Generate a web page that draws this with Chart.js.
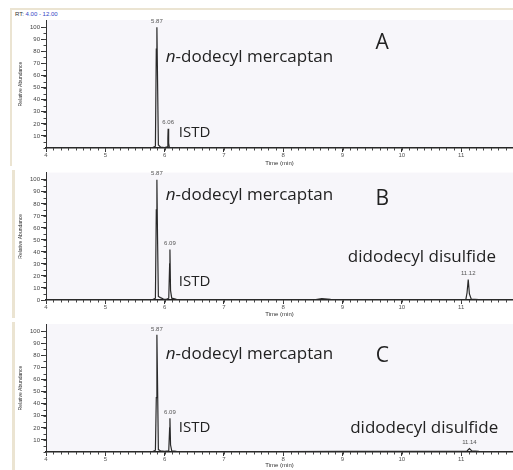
<!DOCTYPE html>
<html>
<head>
<meta charset="utf-8">
<script src="https://cdn.jsdelivr.net/npm/chart.js@4.4.1/dist/chart.umd.min.js"></script>
<style>
  html, body { margin: 0; padding: 0; background: #ffffff; width: 513px; height: 470px; overflow: hidden; }
  .panel { position: absolute; left: 0; width: 513px; }
  .deco { position: absolute; background: #ebe4d2; }
  #rt { position: absolute; left: 15px; top: 11px; font: 6px "Liberation Sans", Arial, sans-serif; color: #333; white-space: nowrap; }
  #rt span { color: #2f3fc4; }
</style>
</head>
<body>
<div class="deco" style="left:10px; top:8px; width:503px; height:2px;"></div>
<div class="deco" style="left:10px; top:8px; width:2px; height:158px;"></div>
<div class="deco" style="left:12px; top:170px; width:3px; height:148px;"></div>
<div class="deco" style="left:12px; top:322px; width:3px; height:148px;"></div>
<div id="rt">RT: <span>4.00 - 12.00</span></div>
<div class="panel" style="top:0px; height:168px;"><canvas id="ca"></canvas></div>
<div class="panel" style="top:168px; height:150px;"><canvas id="cb"></canvas></div>
<div class="panel" style="top:318px; height:152px;"><canvas id="cc"></canvas></div>
<script>
// ---------------- data ----------------
const xTicks = [4, 5, 6, 7, 8, 9, 10, 11];
const yTicksA = [10, 20, 30, 40, 50, 60, 70, 80, 90, 100];
const yTicksB = [0, 10, 20, 30, 40, 50, 60, 70, 80, 90, 100];
const yTicksC = [10, 20, 30, 40, 50, 60, 70, 80, 90, 100];

// Panel A chromatogram
const timeA  = [4.00, 5.00, 5.80, 5.845, 5.86, 5.87, 5.88, 5.895, 5.93, 6.00, 6.045, 6.055, 6.06, 6.068, 6.08, 6.20, 7.00, 8.00, 9.00, 10.00, 11.00, 11.90];
const abundA = [0.3, 0.3, 0.4, 1.5, 82, 100, 60, 2.5, 0.8, 0.4, 1.0, 8, 16, 4, 0.5, 0.3, 0.3, 0.3, 0.3, 0.3, 0.2, 0.2];
const peakTimeA = [5.87, 6.06];
const peakTopA  = [100, 16];

// Panel B chromatogram
const timeB  = [4.00, 5.00, 5.80, 5.845, 5.86, 5.87, 5.88, 5.895, 5.93, 5.98, 6.03, 6.07, 6.085, 6.09, 6.10, 6.12, 6.20, 7.00, 8.00, 8.55, 8.65, 8.80, 9.00, 10.00, 11.00, 11.08, 11.10, 11.12, 11.14, 11.17, 11.30, 11.90];
const abundB = [0.3, 0.3, 0.4, 1.5, 75, 100, 55, 3, 2, 0.8, 0.5, 1.5, 30, 42, 8, 1.5, 0.5, 0.3, 0.3, 0.4, 1.2, 0.6, 0.3, 0.3, 0.3, 0.5, 6, 17, 5, 0.8, 0.3, 0.3];
const peakTimeB = [5.87, 6.09, 11.12];
const peakTopB  = [100, 42, 17];

// Panel C chromatogram
const timeC  = [4.00, 5.00, 5.80, 5.845, 5.86, 5.87, 5.88, 5.895, 5.93, 6.00, 6.07, 6.085, 6.09, 6.10, 6.12, 6.20, 7.00, 8.00, 9.00, 10.00, 11.00, 11.10, 11.14, 11.18, 11.30, 11.90];
const abundC = [0.3, 0.3, 0.4, 1.5, 45, 97, 60, 2, 1, 0.6, 1, 20, 28, 6, 1, 0.5, 0.4, 0.4, 0.5, 0.6, 0.5, 0.8, 2.8, 0.9, 0.5, 0.4];
const peakTimeC = [5.87, 6.09, 11.14];
const peakTopC  = [97, 28, 2.8];

const panelLetters = ['A', 'B', 'C'];
const compoundMain = 'n-dodecyl mercaptan';
const compoundIstd = 'ISTD';
const compoundDisulfide = 'didodecyl disulfide';

// ---------------- drawing ----------------
const TICK_FONT = '"Liberation Sans", Arial, sans-serif';
const LABEL_FONT = '"Open Sans", "Noto Sans", sans-serif';

function makePanel(canvasId, times, abund, yTicks, peakTimes, peakTops, cfg) {
  const pts = times.map((t, i) => ({ x: t, y: abund[i] }));
  const deco = {
    id: 'deco_' + canvasId,
    beforeDraw(chart) {
      const a = chart.chartArea, ctx = chart.ctx;
      ctx.save();
      ctx.fillStyle = '#f7f6fa';
      ctx.fillRect(a.left, a.top, a.right - a.left, a.bottom - a.top);
      ctx.restore();
    },
    afterDraw(chart) {
      const ctx = chart.ctx, xs = chart.scales.x, ys = chart.scales.y, a = chart.chartArea;
      ctx.save();
      // minor ticks
      ctx.strokeStyle = '#444';
      ctx.lineWidth = 1;
      ctx.beginPath();
      for (let k = 0; k <= 64; k++) {
        const v = 4 + k * 0.125;
        const px = Math.round(xs.getPixelForValue(v)) + 0.5;
        if (px < a.left || px > a.right) continue;
        ctx.moveTo(px, a.bottom);
        ctx.lineTo(px, a.bottom + 2.5);
      }
      for (let k = 0; k <= 20; k++) {
        const v = k * 5;
        const py = Math.round(ys.getPixelForValue(v)) + 0.5;
        ctx.moveTo(a.left, py);
        ctx.lineTo(a.left - 2.5, py);
      }
      ctx.stroke();
      // peak labels
      ctx.fillStyle = '#555';
      ctx.font = '6px ' + TICK_FONT;
      ctx.textAlign = 'center';
      ctx.textBaseline = 'bottom';
      peakTimes.forEach((t, i) => {
        ctx.fillText(t.toFixed(2), xs.getPixelForValue(t), ys.getPixelForValue(peakTops[i]) - 3);
      });
      // compound labels
      ctx.fillStyle = '#222';
      ctx.textBaseline = 'middle';
      ctx.textAlign = 'left';
      const bigFont = '17px ' + LABEL_FONT;
      const italFont = 'italic 17px ' + LABEL_FONT;
      // n-dodecyl mercaptan (italic n)
      let mx = xs.getPixelForValue(cfg.main[0]), my = ys.getPixelForValue(cfg.main[1]);
      ctx.font = italFont;
      ctx.fillText(compoundMain.charAt(0), mx, my);
      const w0 = ctx.measureText(compoundMain.charAt(0)).width;
      ctx.font = bigFont;
      ctx.fillText(compoundMain.slice(1), mx + w0, my);
      // ISTD
      ctx.font = '15px ' + LABEL_FONT;
      ctx.fillText(compoundIstd, xs.getPixelForValue(cfg.istd[0]), ys.getPixelForValue(cfg.istd[1]));
      // disulfide
      if (cfg.disulfide) {
        ctx.font = bigFont;
        ctx.fillText(compoundDisulfide, xs.getPixelForValue(cfg.disulfide[0]), ys.getPixelForValue(cfg.disulfide[1]));
      }
      // panel letter
      ctx.font = '21px ' + LABEL_FONT;
      ctx.textAlign = 'center';
      ctx.fillText(cfg.letter, xs.getPixelForValue(cfg.letterPos[0]), ys.getPixelForValue(cfg.letterPos[1]));
      ctx.restore();
    }
  };

  return new Chart(document.getElementById(canvasId), {
    type: 'line',
    data: {
      datasets: [{
        data: pts,
        borderColor: '#2a2a2a',
        borderWidth: 1.2,
        pointRadius: 0,
        tension: 0,
        fill: false
      }]
    },
    options: {
      responsive: true,
      maintainAspectRatio: false,
      animation: false,
      events: [],
      layout: { padding: { top: cfg.padTop, right: 0, left: 0, bottom: 0 } },
      plugins: { legend: { display: false }, tooltip: { enabled: false } },
      scales: {
        x: {
          type: 'linear',
          min: 4,
          max: 11.875,
          afterBuildTicks: s => { s.ticks = xTicks.map(v => ({ value: v })); },
          afterFit: s => { s.height = cfg.xAxisH; },
          border: { display: true, color: '#222', width: 1.5 },
          grid: { display: true, drawOnChartArea: false, drawTicks: true, tickLength: 4, color: '#333' },
          ticks: { font: { size: 6, family: TICK_FONT }, color: '#555', padding: 0, maxRotation: 0 },
          title: { display: true, text: 'Time (min)', font: { size: 6, family: TICK_FONT }, color: '#333', padding: { top: 0, bottom: cfg.xTitlePad } }
        },
        y: {
          min: 0,
          max: 106,
          afterBuildTicks: s => { s.ticks = yTicks.map(v => ({ value: v })); },
          afterFit: s => { s.width = 46; },
          border: { display: true, color: '#333', width: 1 },
          grid: { display: true, drawOnChartArea: false, drawTicks: true, tickLength: 5, color: '#333' },
          ticks: { font: { size: 6, family: TICK_FONT }, color: '#444', padding: 1 },
          title: { display: true, text: 'Relative Abundance', font: { size: 5, family: TICK_FONT }, color: '#333', padding: { top: 18, bottom: 0 } }
        }
      }
    },
    plugins: [deco]
  });
}

makePanel('ca', timeA, abundA, yTicksA, peakTimeA, peakTopA, {
  padTop: 20, xAxisH: 20, xTitlePad: 1.5,
  main: [6.02, 75], istd: [6.24, 12.5], letter: panelLetters[0], letterPos: [9.67, 87]
});
makePanel('cb', timeB, abundB, yTicksB, peakTimeB, peakTopB, {
  padTop: 4, xAxisH: 18, xTitlePad: 0,
  main: [6.02, 87], istd: [6.24, 15], disulfide: [9.09, 35.5], letter: panelLetters[1], letterPos: [9.67, 84]
});
makePanel('cc', timeC, abundC, yTicksC, peakTimeC, peakTopC, {
  padTop: 6, xAxisH: 18, xTitlePad: 1.5,
  main: [6.02, 81], istd: [6.24, 20], disulfide: [9.13, 20], letter: panelLetters[2], letterPos: [9.67, 79.5]
});
</script>
</body>
</html>
